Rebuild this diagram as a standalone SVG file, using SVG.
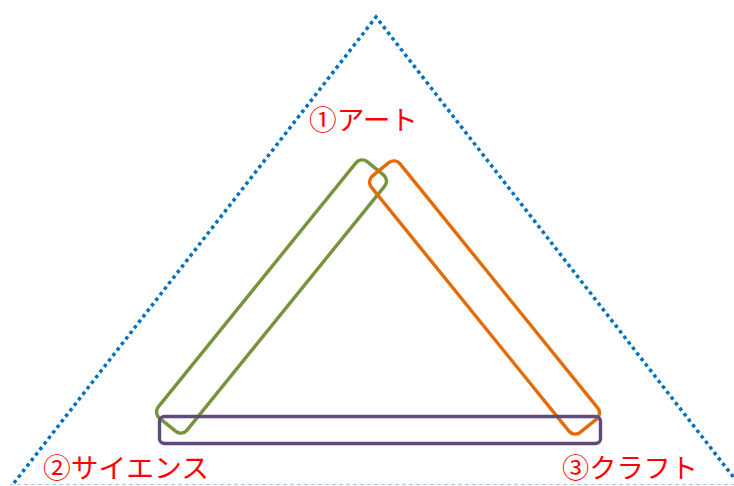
<svg xmlns="http://www.w3.org/2000/svg" width="734" height="486" viewBox="0 0 734 486">
<style>
.lbl{font-family:"Noto Sans CJK JP","Noto Sans",sans-serif;font-size:27px;fill:#FF0000}
.band{fill:none;stroke-width:3.4}
</style>
<rect width="734" height="486" fill="#FFFFFF"/>
<g id="connectors">
<line x1="10" y1="484.5" x2="734" y2="484.5" stroke="#A9C9E8" stroke-width="1" stroke-dasharray="4 3"/>
<polyline points="14,483 376,17 738,483" fill="none" stroke="#0070C0" stroke-width="3.5" stroke-dasharray="3.5 3.5"/>
</g>
<g id="art-band"><rect class="band" stroke="#77933C" x="-165" y="-18.5" width="330" height="37" rx="8" transform="translate(271.5,296.5) rotate(-51)"/></g>
<g id="craft-band"><rect class="band" stroke="#E36C09" x="-165" y="-18.5" width="330" height="37" rx="8" transform="translate(484.5,297.5) rotate(51)"/></g>
<g id="science-band"><rect class="band" stroke="#604A7B" x="159.5" y="416.5" width="441" height="27" rx="5"/></g>
<g id="label-art"><text class="lbl" x="309" y="130" textLength="109" lengthAdjust="spacingAndGlyphs">①アート</text></g>
<g id="label-science"><text class="lbl" x="43" y="478" textLength="166" lengthAdjust="spacingAndGlyphs">②サイエンス</text></g>
<g id="label-craft"><text class="lbl" x="562" y="478" textLength="136" lengthAdjust="spacingAndGlyphs">③クラフト</text></g>
</svg>
